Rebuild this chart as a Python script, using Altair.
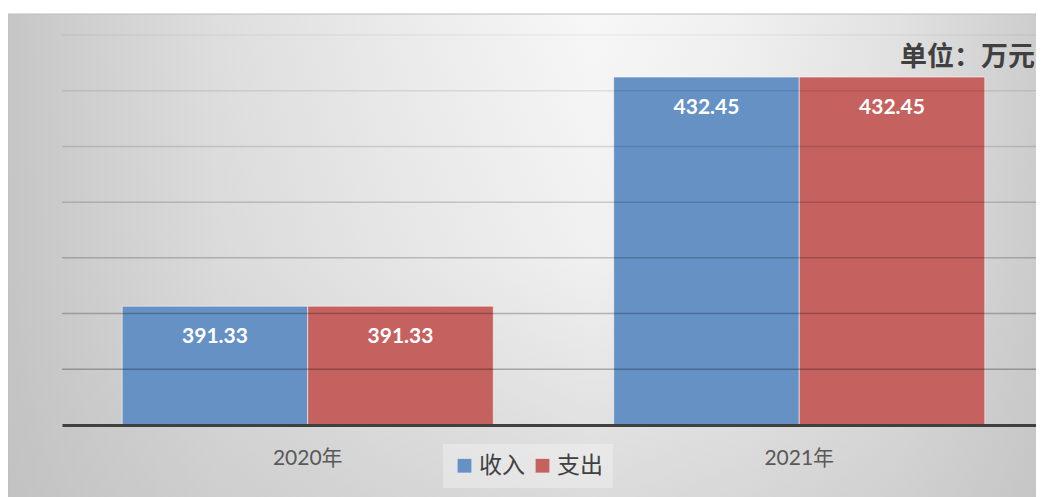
import altair as alt
import pandas as pd

# ---- data ----
years = ["2020年", "2021年"]
series = ["收入", "支出"]
income = [391.33, 432.45]
expense = [391.33, 432.45]
grid_values = [380, 390, 400, 410, 420, 430, 440]
y_domain = [370, 440]
colors = ["#6591c5", "#c5615f"]
unit_text = ["单位：万元"]

rows = []
for i, yr in enumerate(years):
    rows.append({"year": yr, "series": series[0], "value": income[i], "label": f"{income[i]:.2f}"})
    rows.append({"year": yr, "series": series[1], "value": expense[i], "label": f"{expense[i]:.2f}"})
df = pd.DataFrame(rows)

W, H = 974, 390
x_scale = alt.Scale(domain=years, paddingInner=0.245, paddingOuter=0.1225, range=[0, 983])
y_scale = alt.Scale(domain=y_domain, nice=False, zero=False)
off_scale = alt.Scale(domain=series, paddingInner=0, paddingOuter=0)

# ---- background (chart area with gradient) ----
h_grad = alt.LinearGradient(
    gradient="linear", x1=0, x2=1, y1=0, y2=0,
    stops=[
        alt.GradientStop(color="#c6c6c6", offset=0),
        alt.GradientStop(color="#d0d0d0", offset=0.08),
        alt.GradientStop(color="#dedede", offset=0.2),
        alt.GradientStop(color="#eaeaea", offset=0.36),
        alt.GradientStop(color="#f7f7f7", offset=0.56),
        alt.GradientStop(color="#f0f0f0", offset=0.7),
        alt.GradientStop(color="#e2e2e2", offset=0.85),
        alt.GradientStop(color="#cbcbcb", offset=1),
    ],
)
v_grad = alt.LinearGradient(
    gradient="linear", x1=0, x2=0, y1=0, y2=1,
    stops=[
        alt.GradientStop(color="rgba(190,190,190,0)", offset=0),
        alt.GradientStop(color="rgba(190,190,190,0.12)", offset=0.5),
        alt.GradientStop(color="rgba(190,190,190,0.5)", offset=1),
    ],
)
one = alt.Data(values=[{"k": 1}])
bg = alt.Chart(one).mark_rect(color=h_grad, stroke="#bdbdbd", strokeWidth=1).encode(
    x=alt.value(-54), x2=alt.value(990), y=alt.value(-21), y2=alt.value(470)
)
bg2 = alt.Chart(one).mark_rect(color=v_grad).encode(
    x=alt.value(-54), x2=alt.value(990), y=alt.value(-21), y2=alt.value(470)
)

base = alt.Chart(df)

bars = base.mark_bar(stroke="white", strokeOpacity=0.55, strokeWidth=1).encode(
    x=alt.X(
        "year:N", scale=x_scale, sort=years, title=None,
        axis=alt.Axis(
            labelAngle=0, ticks=False, grid=False, domainColor="#404040", domainWidth=3,
            labelFontSize=21, labelColor="#595959", labelFont="Lato, Noto Sans CJK SC",
            labelPadding=22, zindex=2,
        ),
    ),
    xOffset=alt.XOffset("series:N", sort=series, scale=off_scale),
    y=alt.Y("value:Q", scale=y_scale, axis=None),
    y2=alt.datum(y_domain[0]),
    color=alt.Color(
        "series:N", sort=series, scale=alt.Scale(domain=series, range=colors),
        legend=alt.Legend(
            title=None, orient="none", legendX=381, legendY=409, direction="horizontal",
            symbolType="square", symbolSize=190, symbolStrokeWidth=0,
            labelFontSize=23, labelFont="Noto Sans CJK SC", labelColor="#404040",
            labelOffset=3, columnPadding=6, padding=10,
            fillColor="rgba(255,255,255,0.3)", zindex=2,
        ),
    ),
)

grid = alt.Chart(pd.DataFrame({"v": grid_values})).mark_rule(color="black", strokeWidth=1.5).encode(
    y=alt.Y("v:Q", scale=y_scale, axis=None),
    opacity=alt.Opacity("v:Q", scale=alt.Scale(domain=[380, 440], range=[0.28, 0.05]), legend=None),
)

labels = base.mark_text(
    color="white", font="Lato", fontSize=21, fontWeight="bold", baseline="middle", dy=31
).encode(
    x=alt.X("year:N", scale=x_scale, sort=years, title=None),
    xOffset=alt.XOffset("series:N", sort=series, scale=off_scale),
    y=alt.Y("value:Q", scale=y_scale, axis=None),
    text="label:N",
)

unit = alt.Chart(pd.DataFrame({"t": unit_text})).mark_text(
    align="right", baseline="middle", font="Noto Sans CJK SC", fontSize=27,
    fontWeight="bold", color="#404040",
).encode(x=alt.value(973), y=alt.value(23), text="t:N")

chart = alt.layer(bg, bg2, bars, grid, labels, unit).properties(
    width=W, height=H,
    autosize=alt.AutoSizeParams(type="none"),
    padding={"left": 54, "top": 27, "right": 0, "bottom": 72},
    background="white",
).configure_view(stroke=None)

chart.save("out.html", embed_options={"renderer": "svg", "actions": False})
